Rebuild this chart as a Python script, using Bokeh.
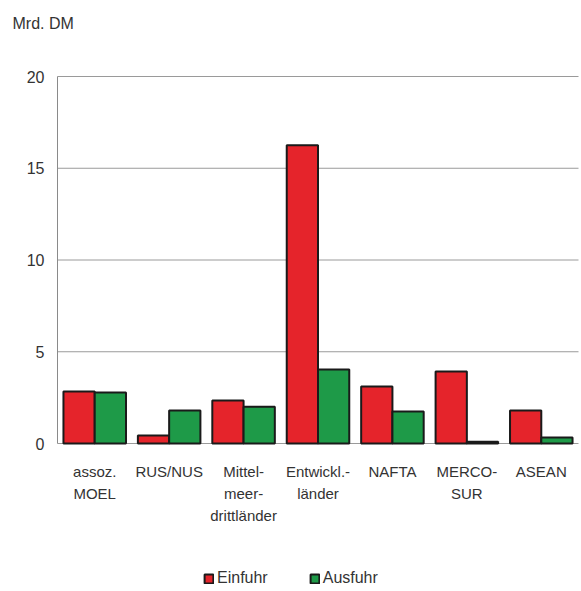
import numpy as np
from bokeh.plotting import figure
from bokeh.models import Range1d, ColumnDataSource, Legend, LegendItem
from bokeh.transform import dodge
from bokeh.core.properties import value
from bokeh.embed import file_html
from bokeh.resources import INLINE

categories = ["assoz.\nMOEL", "RUS/NUS", "Mittel-\nmeer-\ndrittländer", "Entwickl.-\nländer",
              "NAFTA", "MERCO-\nSUR", "ASEAN"]
einfuhr = [2.83, 0.44, 2.34, 16.25, 3.1, 3.92, 1.8]
ausfuhr = [2.78, 1.8, 2.0, 4.03, 1.74, 0.1, 0.33]
y_ticks = [0, 5, 10, 15, 20]
y_tick_labels = ["0", "5", "10", "15", "20"]
y_unit = "Mrd. DM"

# ---- layout (pixels) ----
W, H = 580, 590
FRAME_L, FRAME_R = 57, 578      # plot area left / right
Y_TOP_PX, Y_ZERO_PX = 76, 443   # pixel rows of value 20 and value 0
n = len(categories)
slot = (FRAME_R - FRAME_L) / n
pxu = (Y_ZERO_PX - Y_TOP_PX) / (y_ticks[-1] - y_ticks[0])

x_start = -FRAME_L / slot
x_end = n + (W - FRAME_R) / slot
y_end = y_ticks[-1] + Y_TOP_PX / pxu
y_start = -(H - Y_ZERO_PX) / pxu

font = "Liberation Sans"
txt_col = "#333333"
grid_col = "#9a9a9a"

p = figure(width=W, height=H, output_backend="svg", toolbar_location=None,
           x_range=Range1d(x_start, x_end), y_range=Range1d(y_start, y_end),
           min_border=0, min_border_left=0, min_border_right=0,
           min_border_top=0, min_border_bottom=0)
p.axis.visible = False
p.xgrid.visible = False
p.ygrid.visible = False
p.outline_line_color = None

xc = np.arange(n) + 0.5
src = ColumnDataSource(dict(x=xc, cat=categories, ein=einfuhr, aus=ausfuhr))

# grid lines and left axis line
p.segment(x0=[0] * len(y_ticks), x1=[n] * len(y_ticks), y0=y_ticks, y1=y_ticks,
          line_color=grid_col, line_width=1)
p.segment(x0=[0], x1=[0], y0=[y_ticks[0]], y1=[y_ticks[-1]], line_color="#8a8a8a", line_width=1)

# bars
bw = 0.42
r1 = p.vbar(x=dodge("x", -bw / 2), top="ein", width=bw, source=src,
            fill_color="#e5242b", line_color="#1a1a1a", line_width=2)
r2 = p.vbar(x=dodge("x", bw / 2), top="aus", width=bw, source=src,
            fill_color="#1e9a48", line_color="#1a1a1a", line_width=2)

# y tick labels
p.text(x=[-13 / slot] * len(y_ticks), y=y_ticks, text=y_tick_labels,
       text_align="right", text_baseline="middle", text_font=value(font),
       text_font_size="16px", text_color=txt_col)

# category labels
p.text(x=xc, y=[-19 / pxu] * n, text=categories, text_align="center", text_baseline="top",
       text_font=value(font), text_font_size="15px", text_color=txt_col, text_line_height=1.32)

# unit label
p.text(x=[(12 - FRAME_L) / slot], y=[y_ticks[-1] + (Y_TOP_PX - 23) / pxu], text=[y_unit],
       text_align="left", text_baseline="middle", text_font=value(font),
       text_font_size="16px", text_color=txt_col)

legend = Legend(items=[LegendItem(label="Einfuhr", renderers=[r1]),
                       LegendItem(label="Ausfuhr", renderers=[r2])],
                orientation="horizontal", location=(203, 3),
                label_text_font=font, label_text_font_size="16px", label_text_color=txt_col,
                glyph_width=11, glyph_height=11, spacing=41, label_standoff=3,
                background_fill_alpha=0, border_line_color=None, padding=2, margin=0)
p.add_layout(legend, "center")

open("out.html", "w").write(file_html(p, INLINE))
